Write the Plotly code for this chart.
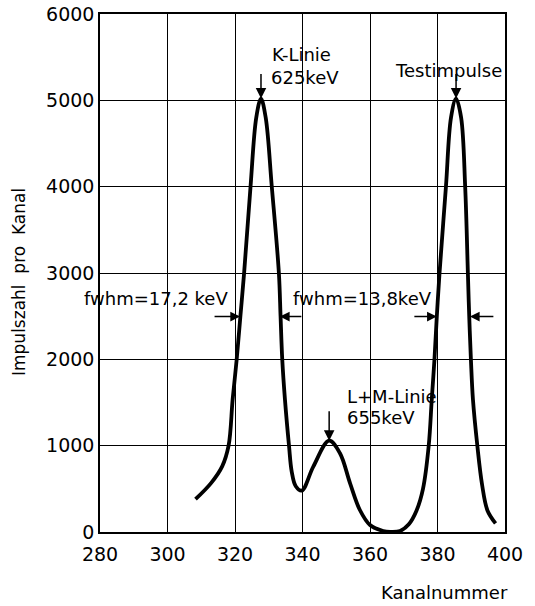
import plotly.graph_objects as go

# Spectrum
kanal = [308.3, 312.9, 316.2, 318.1, 319.3, 320.5, 321.6, 322.7, 324.6, 326.3, 327.7,
         329.1, 330.9, 333.0, 333.5, 334.0, 334.8, 336.0, 336.8, 338.0, 339.8,
         343.2, 347.9, 351.1, 354.1, 357.0, 360.0, 363.9, 366.0, 368.9, 371.5,
         373.8, 375.7, 377.4, 378.3, 379.1, 379.8, 380.6, 382.5, 384.0, 385.5,
         387.0, 388.2, 389.0, 389.4, 389.9, 390.5, 391.8, 393.2, 394.8, 397.2]
impulse = [380, 566, 760, 1000, 1535, 2000, 2500, 3000, 4000, 4800, 5020,
           4800, 4000, 3000, 2500, 2000, 1535, 1000, 700, 530, 480,
           757, 1058, 912, 564, 255, 81, 12, 2, 12, 90,
           250, 500, 1000, 1535, 2000, 2500, 3000, 4000, 4800, 5020,
           4800, 4000, 3000, 2500, 2000, 1535, 1000, 550, 250, 100]

x_ticks = [280, 300, 320, 340, 360, 380, 400]
y_ticks = [0, 1000, 2000, 3000, 4000, 5000, 6000]

# fwhm arrows: (head x, tail x, y)
fwhm_arrows = [(321.5, 313.5, 2495), (333.3, 340.1, 2495),
               (379.8, 372.7, 2495), (389.6, 397.0, 2495)]
peaks = [(327.7, 5020), (385.5, 5020), (347.9, 1058)]

FONT = "DejaVu Sans"

fig = go.Figure()
fig.add_trace(go.Scatter(x=kanal, y=impulse, mode="lines",
                         line=dict(color="black", width=3.8, shape="spline", smoothing=1.0),
                         hoverinfo="skip", showlegend=False))

ann = []
for hx, tx, yy in fwhm_arrows:
    ann.append(dict(x=hx, y=yy, ax=tx, ay=yy, xref="x", yref="y", axref="x", ayref="y",
                    showarrow=True, arrowhead=2, arrowsize=1.3, arrowwidth=1.5,
                    arrowcolor="black", text=""))
for (px, py), off in zip(peaks, [-26, -26, -31]):
    ann.append(dict(x=px, y=py, ax=0, ay=off, xref="x", yref="y",
                    showarrow=True, arrowhead=2, arrowsize=1.4, arrowwidth=1.5,
                    arrowcolor="black", text=""))

tf = dict(family=FONT, size=18, color="black")
labels = [
    (330.4, 5527, "K-Linie", "left"),
    (330.2, 5261, "625keV", "left"),
    (366.8, 5351, "Testimpulse", "left"),
    (352.6, 1564, "L+M-Linie", "left"),
    (352.6, 1332, "655keV", "left"),
    (296.6, 2700, "fwhm=17,2 keV", "center"),
    (357.9, 2700, "fwhm=13,8keV", "center"),
]
for lx, ly, t, xa in labels:
    ann.append(dict(x=lx, y=ly, xref="x", yref="y", text=t, showarrow=False,
                    xanchor=xa, yanchor="middle", font=tf))

ann.append(dict(x=-(100 - 19) / 405, y=(532 - 282) / 518, xref="paper", yref="paper",
                text="Impulszahl  pro  Kanal", showarrow=False, textangle=-90,
                xanchor="center", yanchor="middle",
                font=dict(family=FONT, size=17, color="black")))
ann.append(dict(x=1.0, y=0, xref="paper", yref="paper", text="Kanalnummer", showarrow=False,
                xanchor="right", yanchor="top", yshift=-48, xshift=5,
                font=dict(family=FONT, size=18, color="black")))

fig.update_layout(
    width=535, height=606,
    margin=dict(l=100, r=30, t=14, b=74, autoexpand=False),
    paper_bgcolor="white", plot_bgcolor="white",
    font=dict(family=FONT, size=19, color="black"),
    annotations=ann,
    xaxis=dict(range=[280, 400], tickvals=x_ticks, showgrid=True, gridcolor="black",
               gridwidth=1, showline=True, linecolor="black", linewidth=1.5, mirror=True,
               zeroline=False, ticks="", tickfont=dict(size=19), automargin=False,
               ticklabelstandoff=4),
    yaxis=dict(range=[0, 6000], tickvals=y_ticks, showgrid=True, gridcolor="black",
               gridwidth=1, showline=True, linecolor="black", linewidth=1.5, mirror=True,
               zeroline=False, ticks="", tickfont=dict(size=19), automargin=False),
)

fig.write_html("out.html")
